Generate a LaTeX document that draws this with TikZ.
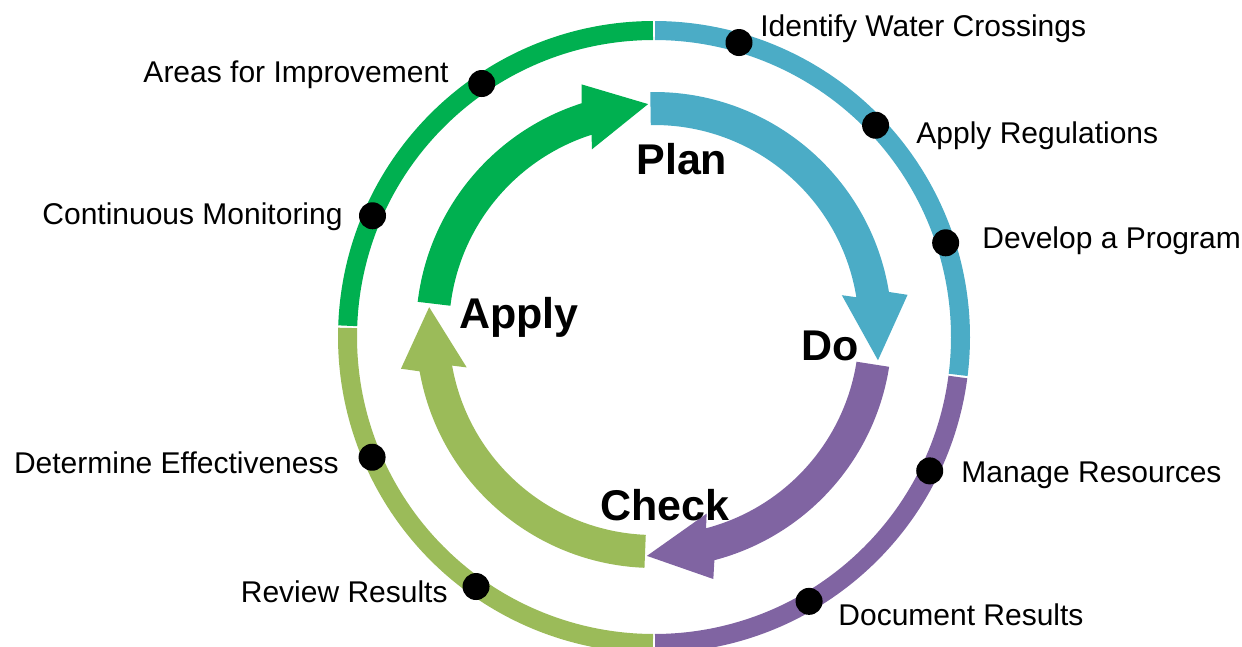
\documentclass[tikz,border=0pt]{standalone}
\usepackage{fontspec}
\setmainfont{Liberation Sans}
\definecolor{cgreen}{HTML}{00B050}
\definecolor{cblue}{HTML}{4BACC6}
\definecolor{cpurple}{HTML}{8064A2}
\definecolor{clgreen}{HTML}{9BBB59}
% #1 colour, #2 start angle, #3 shaft end angle, #4 tip angle (clockwise arrows)
\newcommand\cycarrow[4]{%
  \fill[#1] (#2:119pt) arc[start angle=#2, end angle=#3, radius=119pt]
    -- ({#3-1.3}:128pt) -- (#4:113pt) -- ({#3+1.3}:95.5pt)
    -- (#3:102.5pt) arc[start angle=#3, end angle=#2, radius=102.5pt] -- cycle;}
\begin{document}
\begin{tikzpicture}[x=0.5pt,y=-0.5pt,
  ring/.style={line width=9.5pt},
  dot/.style={circle,fill=black,minimum size=13.5pt,inner sep=0pt},
  lbl/.style={inner sep=0pt,font=\fontsize{15}{18}\selectfont},
  big/.style={inner sep=0pt,font=\fontsize{21.5}{25}\selectfont\bfseries}]
\useasboundingbox (0,0) rectangle (1242,647);
\coordinate (O) at (654,337);
\coordinate (C) at (654,330);
% outer ring
\begin{scope}[shift={(O)}]
  \draw[ring,cgreen]  (177.9:153.25pt) arc[start angle=177.9, end angle=90.2, radius=153.25pt];
  \draw[ring,cblue]   (89.8:153.25pt) arc[start angle=89.8, end angle=-7.1, radius=153.25pt];
  \draw[ring,cpurple] (-7.5:153.25pt) arc[start angle=-7.5, end angle=-89.8, radius=153.25pt];
  \draw[ring,clgreen] (-90.2:153.25pt) arc[start angle=-90.2, end angle=-181.7, radius=153.25pt];
  \node[dot] (d1) at (73.9:153.25pt) {};
  \node[dot] (d2) at (43.7:153.25pt) {};
  \node[dot] (d3) at (17.9:153.25pt) {};
  \node[dot] (d4) at (-25.9:153.25pt) {};
  \node[dot] (d5) at (-59.6:153.25pt) {};
  \node[dot] (d6) at (-125.5:153.25pt) {};
  \node[dot] (d7) at (-156.9:153.25pt) {};
  \node[dot] (d8) at (156.7:153.25pt) {};
  \node[dot] (d9) at (124.2:153.25pt) {};
\end{scope}
% inner cycle arrows
\begin{scope}[shift={(C)}]
  \cycarrow{cblue}{90.9}{9.2}{-7.7}
  \cycarrow{cpurple}{-8.9}{-75.3}{-91.8}
  \cycarrow{clgreen}{-92.3}{-170}{-185.8}
  \cycarrow{cgreen}{173.2}{107.7}{91.5}
\end{scope}
% labels
\node[lbl,anchor=base west] (l1) at (760,37) {Identify Water Crossings};
\node[lbl,anchor=base west] (l2) at (916,143) {Apply Regulations};
\node[lbl,anchor=base west] (l3) at (982,248) {Develop a Program};
\node[lbl,anchor=base west] (l4) at (961,482) {Manage Resources};
\node[lbl,anchor=base west] (l5) at (838,625) {Document Results};
\node[lbl,anchor=base east] (l6) at (448,602) {Review Results};
\node[lbl,anchor=base east] (l7) at (339,473) {Determine Effectiveness};
\node[lbl,anchor=base east] (l8) at (343,224) {Continuous Monitoring};
\node[lbl,anchor=base east] (l9) at (449,83) {Areas for Improvement};
\node[big,anchor=base west] (plan) at (636,175) {Plan};
\node[big,anchor=base west] (do) at (801,360) {Do};
\node[big,anchor=base west] (check) at (600,520) {Check};
\node[big,anchor=base west] (apply) at (459,328) {Apply};
\end{tikzpicture}
\end{document}
